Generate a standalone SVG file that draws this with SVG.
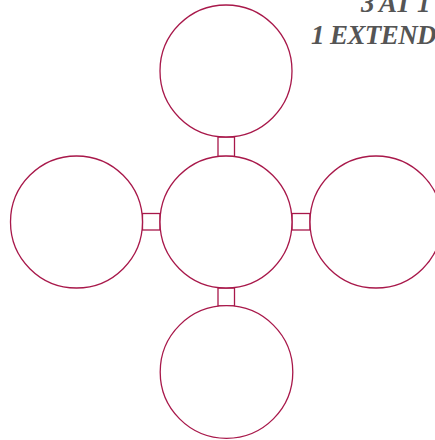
<svg xmlns="http://www.w3.org/2000/svg" width="435" height="440" viewBox="0 0 435 440">
<style>
.n{fill:#fff;stroke:#a8184a;stroke-width:1.3}
.c{fill:#fff;stroke:#a8184a;stroke-width:1.3}
.t{font-family:"Liberation Serif",serif;font-weight:bold;font-style:italic;font-size:27px;letter-spacing:-0.6px;fill:#555}
</style>
<rect width="435" height="440" fill="#fff"/>
<g id="connectors">
<rect class="c" x="218" y="137" width="16.5" height="19.5"/>
<rect class="c" x="142.5" y="213.5" width="17.5" height="16.5"/>
<rect class="c" x="292" y="213.5" width="18" height="16.5"/>
<rect class="c" x="218" y="288" width="16.5" height="18"/>
</g>
<g id="node-top"><circle class="n" cx="226" cy="71" r="66"/></g>
<g id="node-left"><circle class="n" cx="76.5" cy="222" r="66"/></g>
<g id="node-center"><circle class="n" cx="226" cy="222" r="66"/></g>
<g id="node-right"><circle class="n" cx="376" cy="222" r="66"/></g>
<g id="node-bottom"><circle class="n" cx="226.5" cy="372" r="66.3"/></g>
<g id="title">
<text class="t" x="361" y="12">3 AT 1</text>
<text class="t" x="311" y="44">1 EXTEND</text>
</g>
</svg>
